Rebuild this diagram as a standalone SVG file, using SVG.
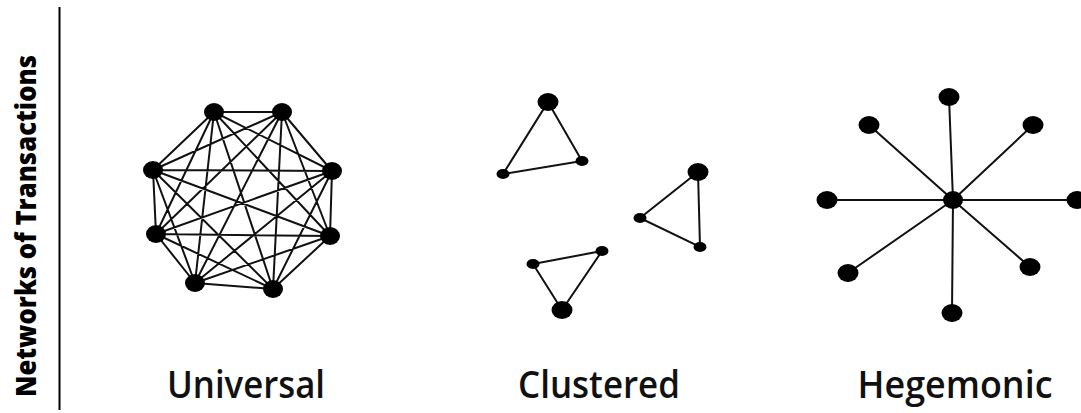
<svg xmlns="http://www.w3.org/2000/svg" width="1081" height="413" viewBox="0 0 1081 413">
<style>
.bg{fill:#fff}
.edge{stroke:#111;stroke-width:2;fill:none;stroke-linecap:round}
.node{fill:#000}
.lbl{font-family:"Open Sans","DejaVu Sans",sans-serif;font-weight:600;font-size:38px;fill:#111;text-anchor:middle}
.side{font-family:"Open Sans","DejaVu Sans",sans-serif;font-weight:800;font-size:28px;fill:#000;text-anchor:middle}
</style>
<rect class="bg" x="0" y="0" width="1081" height="413"/>
<text class="side" transform="translate(36,226) rotate(-90)" textLength="342" lengthAdjust="spacingAndGlyphs">Networks of Transactions</text>
<line x1="59.5" y1="7" x2="59.5" y2="410" stroke="#000" stroke-width="2"/>

<g id="connectors">
  <g id="universal-edges">
    <path class="edge" d="M214,112L282,112M214,112L153,170M214,112L332,171M214,112L156,234M214,112L330,236M214,112L195,283M214,112L273,289
    M282,112L153,170M282,112L332,171M282,112L156,234M282,112L330,236M282,112L195,283M282,112L273,289
    M153,170L332,171M153,170L156,234M153,170L330,236M153,170L195,283M153,170L273,289
    M332,171L156,234M332,171L330,236M332,171L195,283M332,171L273,289
    M156,234L330,236M156,234L195,283M156,234L273,289
    M330,236L195,283M330,236L273,289
    M195,283L273,289"/>
  </g>
  <g id="clustered-edges">
    <path class="edge" d="M548,102L582,161L503,174Z"/>
    <path class="edge" d="M698,172L700,247L640,218Z"/>
    <path class="edge" d="M533,264L602,251L562,310Z"/>
  </g>
  <g id="hegemonic-edges">
    <path class="edge" d="M953,200L949,97M953,200L869,125M953,200L1033,125M953,200L827,200M953,200L1077,200M953,200L848,273M953,200L1030,267M953,200L952,313"/>
  </g>
</g>

<g id="universal">
  <ellipse id="u1" class="node" cx="214" cy="112" rx="10" ry="9"/>
  <ellipse id="u2" class="node" cx="282" cy="112" rx="10" ry="9"/>
  <ellipse id="u3" class="node" cx="153" cy="170" rx="10" ry="9"/>
  <ellipse id="u4" class="node" cx="332" cy="171" rx="10" ry="9"/>
  <ellipse id="u5" class="node" cx="156" cy="234" rx="10" ry="9"/>
  <ellipse id="u6" class="node" cx="330" cy="236" rx="10" ry="9"/>
  <ellipse id="u7" class="node" cx="195" cy="283" rx="10" ry="9"/>
  <ellipse id="u8" class="node" cx="273" cy="289" rx="10" ry="9"/>
  <text class="lbl" x="246" y="398" textLength="158" lengthAdjust="spacingAndGlyphs">Universal</text>
</g>

<g id="clustered">
  <ellipse id="c1" class="node" cx="548" cy="102" rx="10.5" ry="9"/>
  <ellipse id="c2" class="node" cx="582" cy="161" rx="6.5" ry="5"/>
  <ellipse id="c3" class="node" cx="503" cy="174" rx="6.5" ry="5"/>
  <ellipse id="c4" class="node" cx="698" cy="172" rx="10.5" ry="9"/>
  <ellipse id="c5" class="node" cx="640" cy="218" rx="6.5" ry="5"/>
  <ellipse id="c6" class="node" cx="700" cy="247" rx="6.5" ry="5"/>
  <ellipse id="c7" class="node" cx="533" cy="264" rx="6.5" ry="5"/>
  <ellipse id="c8" class="node" cx="602" cy="251" rx="6.5" ry="5"/>
  <ellipse id="c9" class="node" cx="562" cy="310" rx="10.5" ry="9"/>
  <text class="lbl" x="599" y="398" textLength="162" lengthAdjust="spacingAndGlyphs">Clustered</text>
</g>

<g id="hegemonic">
  <ellipse id="h0" class="node" cx="953" cy="200" rx="10" ry="9"/>
  <ellipse id="h1" class="node" cx="949" cy="97" rx="10.5" ry="9"/>
  <ellipse id="h2" class="node" cx="869" cy="125" rx="10.5" ry="9"/>
  <ellipse id="h3" class="node" cx="1033" cy="125" rx="10.5" ry="9"/>
  <ellipse id="h4" class="node" cx="827" cy="200" rx="10.5" ry="9"/>
  <ellipse id="h5" class="node" cx="1077" cy="200" rx="10.5" ry="9"/>
  <ellipse id="h6" class="node" cx="848" cy="273" rx="10.5" ry="9"/>
  <ellipse id="h7" class="node" cx="1030" cy="267" rx="10.5" ry="9"/>
  <ellipse id="h8" class="node" cx="952" cy="313" rx="10.5" ry="9"/>
  <text class="lbl" x="955" y="398" textLength="195" lengthAdjust="spacingAndGlyphs">Hegemonic</text>
</g>
</svg>
